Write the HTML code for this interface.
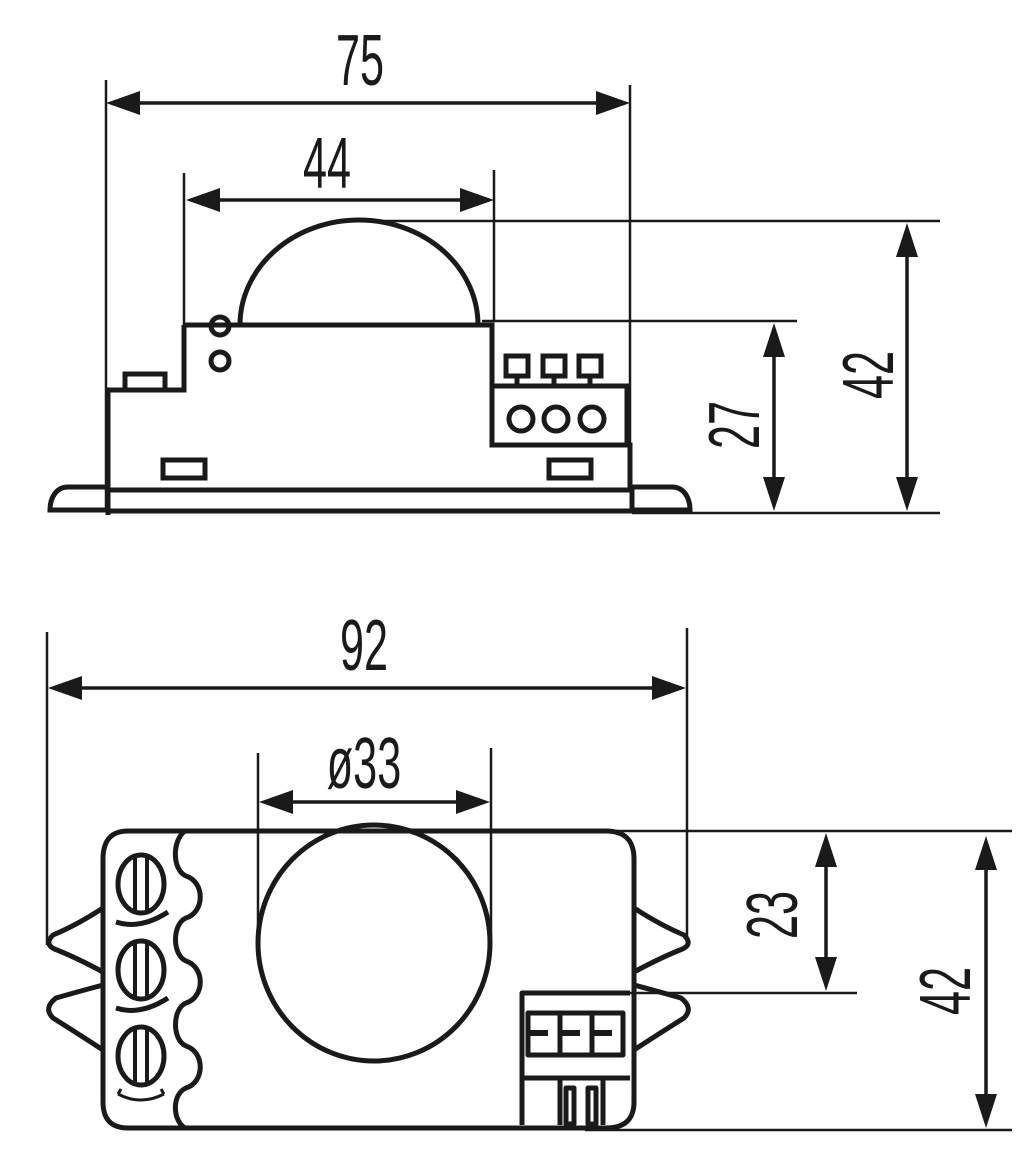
<!DOCTYPE html>
<html><head><meta charset="utf-8"><style>
html,body{margin:0;padding:0;background:#fff;width:1034px;height:1164px;overflow:hidden}
svg{display:block}
text{font-family:"Liberation Sans",sans-serif;font-size:72px;fill:#1a1a1a}
</style></head><body>
<svg width="1034" height="1164" viewBox="0 0 1034 1164" xmlns="http://www.w3.org/2000/svg">
<g stroke="#1a1a1a" fill="none" stroke-linecap="butt">
<g stroke-width="2.5">
<line x1="106" y1="80" x2="106" y2="510"/>
<line x1="630" y1="85" x2="630" y2="445"/>
<line x1="184" y1="173" x2="184" y2="326"/>
<line x1="494" y1="170" x2="494" y2="322"/>
<line x1="370" y1="221" x2="940" y2="221"/>
<line x1="482" y1="321" x2="797" y2="321"/>
<line x1="632" y1="513" x2="940" y2="513"/>
</g>
<g stroke-width="3.5">
<line x1="130" y1="103" x2="606" y2="103"/>
<line x1="210" y1="200" x2="470" y2="200"/>
<line x1="774" y1="350" x2="774" y2="485"/>
<line x1="907" y1="250" x2="907" y2="485"/>
</g>
<g stroke-width="5" stroke-linejoin="miter">
<path d="M240,325 A119,105 0 0 1 478,325"/>
<path d="M184,325 L492,325 L492,445 L630,445 L630,490"/>
<path d="M108,515 L108,390 L184,390 L184,325"/>
<rect x="125" y="374" width="40" height="16"/>
<circle cx="220" cy="326" r="9"/>
<circle cx="220" cy="361" r="9"/>
<rect x="492" y="386" width="135" height="59"/>
<circle cx="521" cy="419" r="12"/>
<circle cx="556" cy="419" r="12"/>
<circle cx="592" cy="419" r="12"/>
<rect x="506" y="356" width="22" height="20"/>
<rect x="543" y="356" width="22" height="20"/>
<rect x="579" y="356" width="22" height="20"/>
<line x1="517" y1="376" x2="517" y2="386"/>
<line x1="554" y1="376" x2="554" y2="386"/>
<line x1="590" y1="376" x2="590" y2="386"/>
<rect x="163" y="460" width="42" height="18"/>
<rect x="549" y="460" width="42" height="18"/>
<rect x="108" y="490" width="524" height="21"/>
<path d="M106,487 L68,487 C56,487 50,498 50,510 L106,510"/>
<path d="M632,487 L672,487 C684,487 690,498 690,510 L632,510"/>
</g>

<g stroke-width="2.5">
<line x1="47" y1="632" x2="47" y2="945"/>
<line x1="687" y1="628" x2="687" y2="945"/>
<line x1="258" y1="753" x2="258" y2="960"/>
<line x1="491" y1="748" x2="491" y2="940"/>
<line x1="600" y1="831" x2="1012" y2="831"/>
<line x1="625" y1="993" x2="857" y2="993"/>
<line x1="585" y1="1130" x2="1012" y2="1130"/>
</g>
<g stroke-width="3.5">
<line x1="72" y1="688" x2="662" y2="688"/>
<line x1="283" y1="802" x2="466" y2="802"/>
<line x1="826" y1="860" x2="826" y2="965"/>
<line x1="986" y1="865" x2="986" y2="1100"/>
</g>
<g stroke-width="5" stroke-linejoin="round">
<path d="M128,831 L606,831 Q634,831 634,859 L634,1102 Q634,1128 606,1128 L128,1128 Q103,1128 103,1102 L103,859 Q103,831 128,831 Z"/>
<path d="M185,831 C172,840 172,870 186,876 C205,882 205,912 186,918 C172,924 172,955 186,961 C205,967 205,997 186,1003 C172,1009 172,1040 186,1046 C205,1052 205,1082 186,1088 C172,1094 172,1120 185,1128"/>
<ellipse cx="374" cy="943" rx="116" ry="118"/>
<ellipse cx="141" cy="884" rx="23" ry="29"/>
<ellipse cx="141" cy="970" rx="23" ry="29"/>
<ellipse cx="141" cy="1056" rx="23" ry="29"/>
<g stroke-width="4">
<line x1="135" y1="858" x2="135" y2="910"/><line x1="147" y1="858" x2="147" y2="910"/>
<line x1="135" y1="944" x2="135" y2="996"/><line x1="147" y1="944" x2="147" y2="996"/>
<line x1="135" y1="1030" x2="135" y2="1082"/><line x1="147" y1="1030" x2="147" y2="1082"/>
</g>
<path d="M116,922 Q140,930 168,912"/>
<path d="M116,1008 Q140,1016 168,998"/>
<path stroke-width="3" d="M118,1094 Q141,1106 164,1094 M118,1094 l3,-5 M164,1094 l-3,-5"/>
<path d="M103,908 Q77,925 53,935 Q43,945 57,950 Q77,958 103,972"/>
<path d="M103,985 Q77,992 56,998 Q43,1008 53,1018 Q77,1033 103,1050"/>
<path d="M634,908 Q660,925 684,935 Q694,945 680,950 Q660,958 634,972"/>
<path d="M634,985 Q660,992 681,998 Q694,1008 684,1018 Q660,1033 634,1050"/>
<path d="M522,1125 L522,993 L630,993"/>
<rect x="528" y="1013" width="95" height="42"/>
<line x1="560" y1="1013" x2="560" y2="1055"/>
<line x1="592" y1="1013" x2="592" y2="1055"/>
<g stroke-width="6"><line x1="528" y1="1033" x2="548" y2="1033"/><line x1="560" y1="1033" x2="580" y2="1033"/><line x1="592" y1="1033" x2="612" y2="1033"/></g>
<line x1="522" y1="1078" x2="630" y2="1078"/>
<path d="M560,1125 L560,1078 M603,1125 L603,1078"/>
<rect x="566" y="1088" width="8" height="36"/>
<rect x="588" y="1088" width="8" height="36"/>
</g>
</g>
<g fill="#1a1a1a">
<polygon points="106,103 140,91 140,115"/>
<polygon points="630,103 596,91 596,115"/>
<polygon points="186,200 220,188 220,212"/>
<polygon points="494,200 460,188 460,212"/>
<polygon points="774,323 763,357 785,357"/>
<polygon points="774,511 763,477 785,477"/>
<polygon points="907,223 896,257 918,257"/>
<polygon points="907,511 896,477 918,477"/>
<polygon points="48,688 82,676 82,700"/>
<polygon points="686,688 652,676 652,700"/>
<polygon points="259,802 293,790 293,814"/>
<polygon points="490,802 456,790 456,814"/>
<polygon points="826,833 815,867 837,867"/>
<polygon points="826,991 815,957 837,957"/>
<polygon points="986,836 975,870 997,870"/>
<polygon points="986,1128 975,1094 997,1094"/>
</g>
<g text-anchor="middle">
<text transform="translate(360,85) scale(0.6,1)">75</text>
<text transform="translate(327,188) scale(0.6,1)">44</text>
<text transform="translate(364,670) scale(0.6,1)">92</text>
<text transform="translate(364,788) scale(0.6,1)">ø33</text>
<text transform="translate(759,425) rotate(-90) scale(0.6,1)">27</text>
<text transform="translate(893,375) rotate(-90) scale(0.6,1)">42</text>
<text transform="translate(797,915) rotate(-90) scale(0.6,1)">23</text>
<text transform="translate(970,991) rotate(-90) scale(0.6,1)">42</text>
</g>
</svg>
</body></html>
